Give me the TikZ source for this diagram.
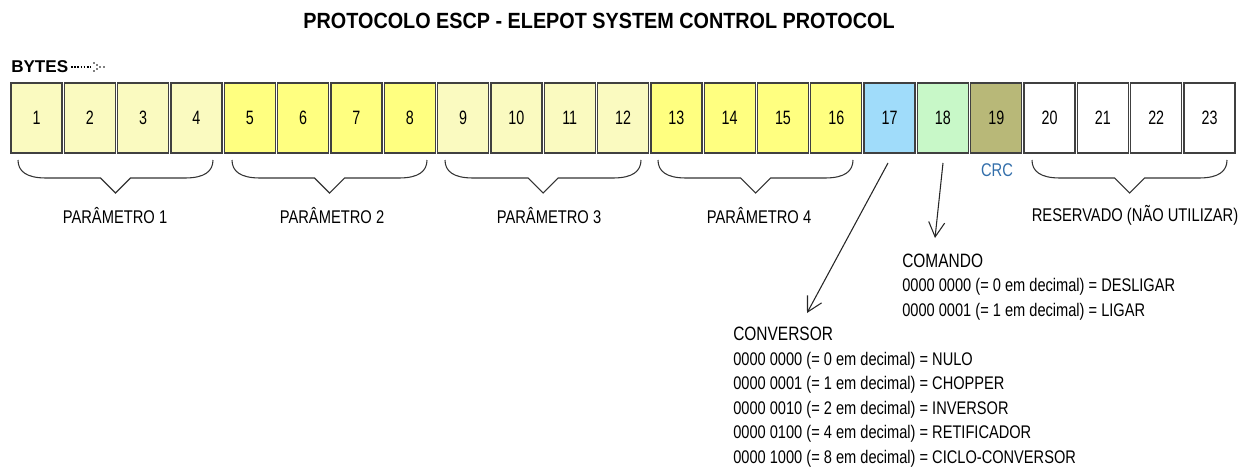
\documentclass[tikz,border=0pt]{standalone}
\usepackage{fontspec}
\setmainfont{Liberation Sans}[FakeStretch=0.8]
\newfontfamily\numfont{Liberation Sans}[FakeStretch=0.74]
\newfontfamily\plainfont{Liberation Sans}
\newfontfamily\titlefont{Liberation Sans}[FakeStretch=0.9]
\usetikzlibrary{arrows.meta}
\definecolor{paley}{RGB}{250,250,192}
\definecolor{yel}{RGB}{255,255,128}
\definecolor{blu}{RGB}{160,220,250}
\definecolor{grn}{RGB}{200,248,200}
\definecolor{oli}{RGB}{184,184,120}
\definecolor{crcblue}{RGB}{50,110,170}
\begin{document}
\begin{tikzpicture}[x=0.75pt,y=-0.75pt,
  bytebox/.style={draw=black!75,line width=1pt,minimum width=38.25pt,minimum height=52.5pt,inner sep=0pt,font=\numfont\fontsize{14.5}{14.5}\selectfont},
  bracestyle/.style={draw=black!80,line width=0.8pt},
  grplabel/.style={font=\fontsize{13.8}{13.8}\selectfont,inner sep=0pt},
  desc/.style={anchor=base west,inner sep=0pt,font=\fontsize{13.7}{13.7}\selectfont},
  desctitle/.style={anchor=base west,inner sep=0pt,font=\fontsize{14.5}{14.5}\selectfont},
  arr/.style={draw=black!85,line width=0.8pt,-{Straight Barb[length=11pt,width=12pt]}}]
\useasboundingbox (0,0) rectangle (1253,467);
% title
\node[inner sep=0pt,font=\titlefont\bfseries\fontsize{16.5}{16.5}\selectfont] (title) at (599,20.5) {PROTOCOLO ESCP - ELEPOT SYSTEM CONTROL PROTOCOL};
% BYTES
\node[anchor=west,inner sep=0pt,font=\plainfont\bfseries\fontsize{12.8}{12.8}\selectfont] (bytes) at (11,67) {BYTES};
\draw[black,line width=1.2pt,dash pattern=on 1.2pt off 1.2pt] (bytes.east)++(2.5,0) -- ++(20,0) coordinate (dend);
\foreach \dx/\dy in {3/-4,3/4,6/-2,6/2,9/0,13/0}
  \fill[black] ([shift={(\dx,\dy)}]dend) circle (0.9);
% byte boxes
\foreach \i/\c in {1/paley,2/paley,3/paley,4/paley,5/yel,6/yel,7/yel,8/yel,9/paley,10/paley,11/paley,12/paley,13/yel,14/yel,15/yel,16/yel,17/blu,18/grn,19/oli,20/white,21/white,22/white,23/white}
  \node[bytebox,fill=\c] (b\i) at ({36.5+(\i-1)*53.32},118) {\i};
% braces
\foreach \a/\b in {18/213,232/427,445/641,658/853,1032/1227}
  \draw[bracestyle] (\a,160) .. controls (\a,171) and (\a+8,178) .. (\a+28,178) -- ({(\a+\b)/2-15},178) -- ({(\a+\b)/2},193) -- ({(\a+\b)/2+15},178) -- (\b-28,178) .. controls (\b-8,178) and (\b,171) .. (\b,160);
% group labels
\node[grplabel] (p1) at (115,216) {PARÂMETRO 1};
\node[grplabel] (p2) at (332,216) {PARÂMETRO 2};
\node[grplabel] (p3) at (549,216) {PARÂMETRO 3};
\node[grplabel] (p4) at (759,216) {PARÂMETRO 4};
\node[grplabel] (res) at (1135,215) {RESERVADO (NÃO UTILIZAR)};
\node[grplabel,text=crcblue] (crc) at (997,170) {CRC};
% comando
\node[desctitle] (cmd) at (902,267) {COMANDO};
\node[desc] (cmd1) at (902,291.5) {0000 0000 (= 0 em decimal) = DESLIGAR};
\node[desc] (cmd2) at (902,316) {0000 0001 (= 1 em decimal) = LIGAR};
% conversor
\node[desctitle] (conv) at (733,340.5) {CONVERSOR};
\node[desc] (conv1) at (733,365) {0000 0000 (= 0 em decimal) = NULO};
\node[desc] (conv2) at (733,389.5) {0000 0001 (= 1 em decimal) = CHOPPER};
\node[desc] (conv3) at (733,414) {0000 0010 (= 2 em decimal) = INVERSOR};
\node[desc] (conv4) at (733,438.5) {0000 0100 (= 4 em decimal) = RETIFICADOR};
\node[desc] (conv5) at (733,463) {0000 1000 (= 8 em decimal) = CICLO-CONVERSOR};
% arrows
\coordinate (s17) at (888,163);
\coordinate (t17) at (807,313);
\coordinate (s18) at (943,163);
\coordinate (t18) at (935,238);
\draw[arr] (s17) -- (t17);
\draw[arr] (s18) -- (t18);
\end{tikzpicture}
\end{document}
